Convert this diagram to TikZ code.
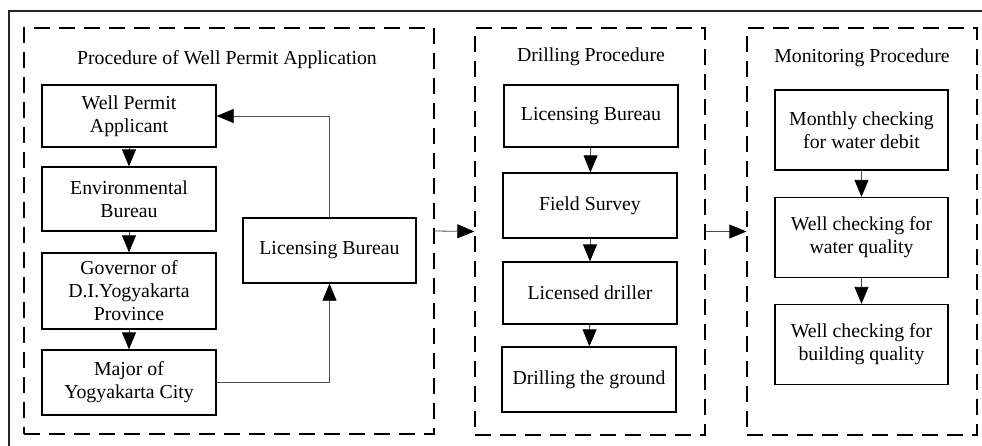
\documentclass[tikz,border=0pt]{standalone}
\usepackage{fontspec}
\setmainfont{Liberation Serif}
\usetikzlibrary{arrows.meta, positioning}

\tikzset{
  stage/.style={draw, line width=1.3pt, align=center, inner sep=2pt, minimum width=174pt, minimum height=64pt},
  frame/.style={draw, line width=1.3pt, dash pattern=on 16pt off 9pt, minimum width=230pt, minimum height=407pt},
  flow/.style={draw=black!70, line width=0.8pt, -{Triangle[length=17pt, width=14pt, black]}},
}

\begin{document}
\begin{tikzpicture}[x=1pt, y=-1pt, font=\fontsize{19.8}{23}\selectfont]
  \clip (0,0) rectangle (982,445);
  \fill[white] (0,0) rectangle (982,445);
  \draw[line width=1.6pt, black!85] (9,11) rectangle (1000,470);

  % permit application
  \node[frame, minimum width=410pt, minimum height=406pt] (permit) at (229,231) {};
  \node (permitT) at (227,60) {Procedure of Well Permit Application};
  \node[stage, minimum height=62pt] (applicant) at (129,116) {Well Permit\\Applicant};
  \node[stage] (env) at (129,199) {Environmental\\Bureau};
  \node[stage, minimum height=76pt] (gov) at (129,291) {Governor of\\D.I.Yogyakarta\\Province};
  \node[stage, minimum height=65pt] (major) at (129,382.5) {Major of\\Yogyakarta City};
  \node[stage, minimum width=173pt, minimum height=65pt] (bureauA) at (329.5,250.5) {Licensing Bureau};
  \draw[flow] (applicant) -- (env);
  \draw[flow] (env) -- (gov);
  \draw[flow] (gov) -- (major);
  \draw[flow] (major.east) -| (bureauA.south);
  \draw[flow] (bureauA.north) |- (applicant.east);

  % drilling
  \node[frame] (drill) at (590,231.5) {};
  \node (drillT) at (591,57) {Drilling Procedure};
  \node[stage, minimum height=62pt] (bureauB) at (591,116) {Licensing Bureau};
  \node[stage, minimum height=65pt] (survey) at (590,205.5) {Field Survey};
  \node[stage, minimum height=62pt] (driller) at (590,293) {Licensed driller};
  \node[stage, minimum height=65pt] (ground) at (589,379.5) {Drilling the ground};
  \draw[flow] (bureauB) -- (survey);
  \draw[flow] (survey) -- (driller);
  \draw[flow] (driller) -- (ground);

  % monitoring
  \node[frame] (monitor) at (862,231.5) {};
  \node (monitorT) at (862,58) {Monitoring Procedure};
  \node[stage, minimum width=173pt, minimum height=80pt] (debit) at (861.5,130) {Monthly checking\\for water debit};
  \node[stage, minimum width=173pt, minimum height=80pt] (water) at (861.5,237.5) {Well checking for\\water quality};
  \node[stage, minimum width=173pt, minimum height=80pt] (building) at (861.5,344.5) {Well checking for\\building quality};
  \draw[flow] (debit) -- (water);
  \draw[flow] (water) -- (building);

  \draw[flow] (permit.east) -- (drill.west);
  \draw[flow] (drill.east) -- (monitor.west);
\end{tikzpicture}
\end{document}
